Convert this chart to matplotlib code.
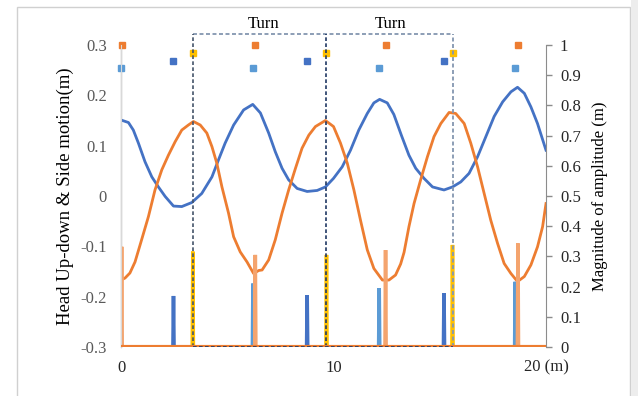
import matplotlib
matplotlib.use("Agg")
from matplotlib import pyplot as plt
from matplotlib.patches import Rectangle

# head side motion (blue) and up-down motion (orange), left axis
side_x = [0.0, 0.35, 0.58, 0.82, 1.13, 1.45, 1.76, 2.08, 2.47, 2.86, 3.33, 3.8, 4.28,
          4.59, 4.9, 5.3, 5.77, 6.2, 6.56, 6.95, 7.26, 7.58, 7.89, 8.29, 8.76, 9.23,
          9.62, 10.0, 10.41, 10.8, 11.19, 11.59, 11.9, 12.17, 12.53, 12.84, 13.2,
          13.55, 13.87, 14.26, 14.66, 15.2, 15.6, 15.99, 16.38, 16.78, 17.17, 17.56,
          17.96, 18.35, 18.66, 18.98, 19.29, 19.6, 20.0]
side_y = [0.151, 0.146, 0.131, 0.105, 0.068, 0.038, 0.018, -0.001, -0.020, -0.021,
          -0.013, 0.005, 0.038, 0.072, 0.105, 0.141, 0.171, 0.182, 0.165, 0.125,
          0.088, 0.055, 0.032, 0.015, 0.009, 0.011, 0.018, 0.035, 0.058, 0.091,
          0.131, 0.164, 0.185, 0.192, 0.185, 0.162, 0.120, 0.081, 0.055, 0.035,
          0.018, 0.012, 0.018, 0.028, 0.045, 0.078, 0.118, 0.158, 0.187, 0.207,
          0.216, 0.204, 0.177, 0.144, 0.091]

updown_x = [0.0, 0.19, 0.42, 0.66, 0.97, 1.29, 1.6, 1.92, 2.23, 2.55, 2.86, 3.17, 3.41,
            3.73, 4.04, 4.28, 4.51, 4.75, 5.06, 5.3, 5.61, 5.93, 6.24, 6.48, 6.64,
            6.95, 7.26, 7.58, 7.89, 8.21, 8.52, 8.84, 9.15, 9.62, 10.0, 10.33, 10.65,
            10.96, 11.27, 11.59, 11.9, 12.3, 12.61, 12.92, 13.16, 13.32, 13.55, 13.79,
            14.1, 14.42, 14.73, 15.05, 15.44, 15.75, 16.15, 16.46, 16.78, 17.09, 17.4,
            17.72, 18.03, 18.35, 18.66, 18.98, 19.29, 19.6, 19.84, 20.0]
updown_y = [-0.167, -0.163, -0.153, -0.131, -0.087, -0.041, 0.012, 0.052, 0.081, 0.108,
            0.131, 0.141, 0.148, 0.141, 0.125, 0.098, 0.065, 0.018, -0.034, -0.081,
            -0.111, -0.131, -0.154, -0.148, -0.147, -0.127, -0.087, -0.034, 0.012,
            0.055, 0.095, 0.121, 0.138, 0.150, 0.138, 0.105, 0.065, 0.012, -0.048,
            -0.107, -0.144, -0.167, -0.167, -0.157, -0.135, -0.112, -0.061, -0.015,
            0.032, 0.078, 0.118, 0.144, 0.166, 0.164, 0.144, 0.105, 0.058, 0.005,
            -0.048, -0.094, -0.134, -0.154, -0.170, -0.160, -0.137, -0.101, -0.061,
            -0.015]

# detected events (right axis): position, spike height, marker level
peak_up_x = [0.03, 6.32, 12.45, 18.68]
peak_up_h = [0.332, 0.305, 0.321, 0.343]
peak_up_mark = 1.0

peak_side_x = [0.0, 6.21, 12.15, 18.55]
peak_side_h = [0.195, 0.21, 0.195, 0.216]
peak_side_mark = 0.925

low_side_x = [2.47, 8.76, 15.2]
low_side_h = [0.169, 0.172, 0.178]
low_side_mark = 0.948

turn_x = [3.38, 9.67, 15.6]
turn_h = [0.316, 0.305, 0.338]
turn_mark = 0.974

left_ticks = [-0.3, -0.2, -0.1, 0, 0.1, 0.2, 0.3]
left_labels = ["-0.3", "-0.2", "-0.1", "0", "0.1", "0.2", "0.3"]
right_ticks = [0, 0.1, 0.2, 0.3, 0.4, 0.5, 0.6, 0.7, 0.8, 0.9, 1.0]
right_labels = ["0", "0.1", "0.2", "0.3", "0.4", "0.5", "0.6", "0.7", "0.8", "0.9", "1"]
x_ticks = [0, 10, 20]
x_labels = ["0", "10", "20 (m)"]

BLUE = "#4472C4"
ORANGE = "#ED7D31"
LIGHT_BLUE = "#5B9BD5"
YELLOW = "#FFC000"
SALMON = "#F4A46E"

plt.rcParams["font.family"] = ["Liberation Serif", "DejaVu Serif"]
plt.rcParams["font.size"] = 12


def spikes(xs, hs, half=0.025):
    px, py = [], []
    for x, h in zip(xs, hs):
        px += [x - half, x, x + half]
        py += [0, h, 0]
    return px, py


fig = plt.figure(figsize=(6.38, 3.96), dpi=100)
fig.patches.append(Rectangle((17 / 638, -0.1), 613 / 638, 1 - 7 / 396 + 0.1,
                             transform=fig.transFigure, fill=False,
                             edgecolor="#D0D0D0", lw=1))
fig.patches.append(Rectangle((631 / 638, 0), 7 / 638, 1, transform=fig.transFigure,
                             facecolor="#EDEDED", edgecolor="none"))

ax = fig.add_axes([121 / 638, 1 - 347 / 396, 425 / 638, 302 / 396])
ax2 = ax.twinx()

ax.plot(side_x, side_y, color=BLUE, lw=2, zorder=3)
ax.plot(updown_x, updown_y, color=ORANGE, lw=2, zorder=3)

for xs, hs, c in [(low_side_x, low_side_h, BLUE), (peak_side_x, peak_side_h, LIGHT_BLUE),
                  (peak_up_x, peak_up_h, SALMON), (turn_x, turn_h, YELLOW)]:
    sx, sy = spikes(xs, hs)
    ax2.plot(sx, sy, color=c, lw=2.6, solid_joinstyle="miter")
ax2.axhline(0, color=ORANGE, lw=3, zorder=4)

for xs, lvl, c in [(peak_up_x, peak_up_mark, ORANGE), (peak_side_x, peak_side_mark, LIGHT_BLUE),
                   (low_side_x, low_side_mark, BLUE), (turn_x, turn_mark, YELLOW)]:
    ax2.plot(xs, [lvl] * len(xs), ls="none", marker="s", ms=5, color=c, clip_on=False)

# turn boxes
box_top = 1.037
dash = (0, (2.2, 1.4))
ax2.plot([turn_x[0], turn_x[2]], [box_top, box_top], color="#8496B0", lw=1.3,
         ls=dash, clip_on=False)
ax2.plot([turn_x[0], turn_x[0]], [0, box_top], color="#44546A", lw=1.2, ls=dash, clip_on=False)
ax2.plot([turn_x[2], turn_x[2]], [0, box_top], color="#8496B0", lw=1.3, ls=dash, clip_on=False)
ax2.plot([turn_x[1], turn_x[1]], [0, box_top], color="#203864", lw=1.2, ls=dash, clip_on=False)
ax2.plot([turn_x[0], turn_x[2]], [0, 0], color="#203864", lw=1.2, ls=dash, zorder=5)
for tx in [(turn_x[0] + turn_x[1]) / 2 + 0.2, (turn_x[1] + turn_x[2]) / 2 + 0.05]:
    ax2.text(tx, 1.07, "Turn", ha="center", va="center", fontsize=12, clip_on=False)

ax.set_xlim(0, 20)
ax.set_ylim(-0.3, 0.3)
ax2.set_ylim(0, 1)

ax.set_yticks(left_ticks, left_labels)
ax.set_xticks(x_ticks, x_labels)
ax2.set_yticks(right_ticks, right_labels)
ax.tick_params(axis="y", length=0, pad=10, labelcolor="#595959")
ax.tick_params(axis="x", length=0, pad=9, labelcolor="#262626")
ax2.tick_params(axis="y", length=4, width=1, color="#8C8C8C", pad=6, labelcolor="#262626")

for a in (ax, ax2):
    a.spines["top"].set_visible(False)
    a.spines["bottom"].set_visible(False)
ax.spines["right"].set_visible(False)
ax2.spines["left"].set_color("#D9D9D9")
ax2.spines["right"].set_color("#8C8C8C")

ax.set_ylabel("Head Up-down & Side motion(m)", fontsize=13.5, labelpad=5)
ax2.set_ylabel("Magnitude of amplitude (m)", labelpad=8)

fig.savefig("out.png", dpi=100)
